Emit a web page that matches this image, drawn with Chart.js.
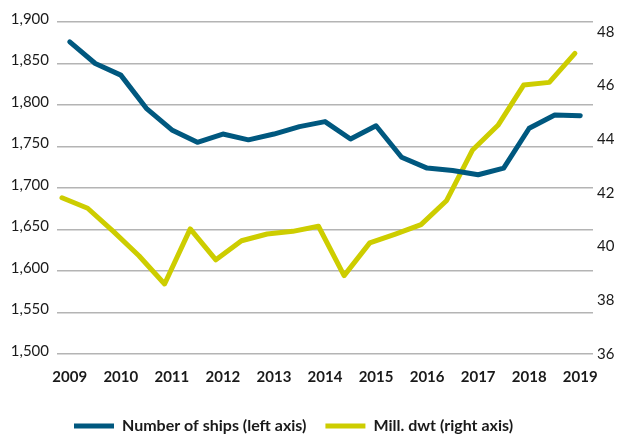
<!DOCTYPE html>
<html>
<head>
<meta charset="utf-8">
<script src="https://cdn.jsdelivr.net/npm/chart.js@4/dist/chart.umd.min.js"></script>
<style>
  html, body { margin: 0; padding: 0; background: #fff; }
  #wrap { width: 617px; height: 437px; }
</style>
</head>
<body>
<div id="wrap"><canvas id="shipChart"></canvas></div>
<script>
// half-yearly observations, 2009 to 2019
const periods = ['2009', '2009 H2', '2010', '2010 H2', '2011', '2011 H2', '2012', '2012 H2',
  '2013', '2013 H2', '2014', '2014 H2', '2015', '2015 H2', '2016', '2016 H2',
  '2017', '2017 H2', '2018', '2018 H2', '2019'];
const ships = [1876, 1850, 1836, 1796, 1770, 1755, 1765, 1758, 1765, 1774, 1780,
  1759, 1775, 1737, 1724, 1721, 1716, 1724, 1772, 1788, 1787]; // left axis
const dwt = [41.82, 41.43, 40.57, 39.66, 38.61, 40.66, 39.51, 40.22, 40.47, 40.57, 40.76,
  38.92, 40.14, 40.47, 40.82, 41.72, 43.59, 44.52, 46.02, 46.12, 47.2]; // right axis, mill.
const leftTicks = { min: 1500, max: 1900, step: 50 };
const rightTicks = { min: 36, max: 48, step: 2 };

const blue = '#00587f';
const yellow = '#cdcd00';
const font = { family: 'Lato', size: 15 };

// legend sits left of centre in the original
const legendLeft = {
  id: 'legendLeft',
  beforeDraw(chart) {
    chart.legend.left = chart.chartArea.left - 2;
  }
};

const ctx = document.getElementById('shipChart').getContext('2d');
const shipChart = new Chart(ctx, {
  type: 'line',
  data: {
    labels: periods,
    datasets: [{
      label: 'Number of ships (left axis)',
      data: ships,
      yAxisID: 'y',
      xAxisID: 'x',
      borderColor: blue,
      backgroundColor: blue,
      borderWidth: 5,
      borderCapStyle: 'round',
      borderJoinStyle: 'round',
      pointRadius: 0,
      tension: 0
    }, {
      label: 'Mill. dwt (right axis)',
      data: dwt.map((v, i) => ({ x: i, y: v })),
      yAxisID: 'y1',
      xAxisID: 'x2',
      borderColor: yellow,
      backgroundColor: yellow,
      borderWidth: 5,
      borderCapStyle: 'round',
      borderJoinStyle: 'round',
      pointRadius: 0,
      tension: 0
    }]
  },
  plugins: [legendLeft],
  options: {
    responsive: true,
    maintainAspectRatio: false,
    animation: false,
    layout: { padding: { left: 11, right: 3, top: 22, bottom: -7 } },
    plugins: {
      tooltip: { enabled: false },
      legend: {
        position: 'bottom',
        align: 'start',
        labels: {
          usePointStyle: true,
          pointStyle: 'line',
          pointStyleWidth: 40,
          color: '#1a1a1a',
          font: { family: 'Lato', size: 16, weight: 'bold' },
          padding: 19
        }
      }
    },
    scales: {
      x: {
        type: 'category',
        offset: true,
        afterFit: (scale) => { scale.height += 7; },
        grid: { display: false },
        border: { display: false },
        ticks: {
          autoSkip: false,
          maxRotation: 0,
          padding: 6,
          color: '#1a1a1a',
          font: { family: 'Lato', size: 15, weight: 'bold' },
          callback: (val, i) => (i % 2 === 0 ? periods[i] : '')
        }
      },
      x2: {
        type: 'linear',
        display: false,
        min: -0.195,
        max: 20.705
      },
      y: {
        position: 'left',
        min: leftTicks.min,
        max: leftTicks.max,
        afterFit: (scale) => { scale.width = 46; },
        grid: { color: '#b4b4b4', lineWidth: 1.5, drawTicks: false },
        border: { display: false },
        ticks: { stepSize: leftTicks.step, padding: 8, labelOffset: -3, color: '#1a1a1a', font: font }
      },
      y1: {
        position: 'right',
        min: rightTicks.min,
        max: 48.37,
        afterFit: (scale) => { scale.width = 21; },
        grid: { display: false, drawTicks: false },
        border: { display: false },
        ticks: { stepSize: rightTicks.step, includeBounds: false, padding: 4, color: '#1a1a1a', font: font }
      }
    }
  }
});
</script>
</body>
</html>
